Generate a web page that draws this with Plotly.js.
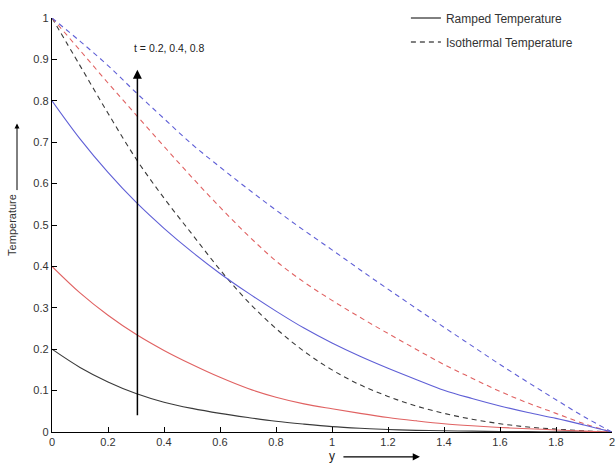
<!DOCTYPE html>
<html>
<head>
<meta charset="utf-8">
<script src="https://cdn.plot.ly/plotly-3.0.1.min.js"></script>
<style>html,body{margin:0;padding:0;background:#fff;}#chart{width:616px;height:468px;}</style>
</head>
<body>
<div id="chart"></div>
<script>
// distance y
const yPos = [0, 0.1, 0.2, 0.3, 0.4, 0.5, 0.6, 0.7, 0.8, 0.9, 1.0, 1.1, 1.2, 1.3, 1.4, 1.5, 1.6, 1.7, 1.8, 1.9, 2.0];

// Ramped temperature (solid)
const rampT02 = [0.200, 0.156, 0.121, 0.093, 0.072, 0.057, 0.045, 0.035, 0.026, 0.019, 0.013, 0.009, 0.006, 0.004, 0.003, 0.002, 0.0012, 0.0008, 0.0005, 0.0002, 0];
const rampT04 = [0.400, 0.336, 0.282, 0.236, 0.197, 0.163, 0.132, 0.105, 0.084, 0.068, 0.056, 0.045, 0.035, 0.027, 0.020, 0.015, 0.011, 0.008, 0.005, 0.002, 0];
const rampT08 = [0.800, 0.708, 0.627, 0.555, 0.492, 0.435, 0.383, 0.336, 0.292, 0.251, 0.215, 0.183, 0.154, 0.127, 0.101, 0.081, 0.063, 0.047, 0.033, 0.017, 0];

// Isothermal temperature (dashed)
const isoT02 = [1.000, 0.885, 0.770, 0.660, 0.565, 0.478, 0.392, 0.315, 0.250, 0.195, 0.150, 0.114, 0.086, 0.063, 0.045, 0.031, 0.020, 0.012, 0.007, 0.003, 0];
const isoT04 = [1.000, 0.922, 0.843, 0.766, 0.690, 0.615, 0.543, 0.475, 0.413, 0.362, 0.318, 0.277, 0.238, 0.200, 0.163, 0.130, 0.098, 0.070, 0.045, 0.020, 0];
const isoT08 = [1.000, 0.944, 0.885, 0.820, 0.757, 0.695, 0.640, 0.587, 0.536, 0.487, 0.440, 0.392, 0.345, 0.299, 0.253, 0.208, 0.163, 0.120, 0.078, 0.037, 0];

const xTicks = [0, 0.2, 0.4, 0.6, 0.8, 1, 1.2, 1.4, 1.6, 1.8, 2];
const yTicks = [0, 0.1, 0.2, 0.3, 0.4, 0.5, 0.6, 0.7, 0.8, 0.9, 1];
const legendNames = ['Ramped Temperature', 'Isothermal Temperature'];
const timeLabel = 't = 0.2, 0.4, 0.8';

const cBlack = '#3a3a3a', cRed = '#e06262', cBlue = '#5f5fd6';
const DASH = '5px,4px';
const FONT = 'Liberation Sans, Arial, sans-serif';

function line(y, color, dash) {
  return {x: yPos, y: y, mode: 'lines', showlegend: false, hoverinfo: 'skip',
          line: {color: color, width: 1.1, dash: dash, shape: 'spline', smoothing: 1}};
}

const traces = [
  line(isoT02, cBlack, DASH), line(isoT04, cRed, DASH), line(isoT08, cBlue, DASH),
  line(rampT02, cBlack, 'solid'), line(rampT04, cRed, 'solid'), line(rampT08, cBlue, 'solid'),
  {x: [null], y: [null], mode: 'lines', name: legendNames[0], legendgroup: 'a',
   line: {color: '#000', width: 1, dash: 'solid'}},
  {x: [null], y: [null], mode: 'lines', name: legendNames[1], legendgroup: 'b',
   line: {color: '#000', width: 1, dash: DASH}}
];

const axisFont = {family: FONT, size: 11, color: '#333'};

const layout = {
  width: 616, height: 468,
  margin: {l: 52, r: 4, t: 15, b: 36},
  paper_bgcolor: '#fff', plot_bgcolor: '#fff',
  font: axisFont,
  showlegend: true,
  legend: {x: 0.632, y: 1.035, xanchor: 'left', yanchor: 'top', bgcolor: 'rgba(0,0,0,0)',
           font: {family: FONT, size: 12, color: '#333'},
           traceorder: 'grouped', tracegroupgap: 5, itemwidth: 30},
  xaxis: {range: [0, 2], tickvals: xTicks, ticktext: xTicks.map(String), ticks: 'inside', ticklen: 5,
          tickcolor: '#000', showline: true, linecolor: '#000', linewidth: 1.2, showgrid: false,
          zeroline: false, mirror: false, tickfont: axisFont,
          title: {text: 'y', font: {family: FONT, size: 12, color: '#222'}, standoff: 4}},
  yaxis: {range: [0, 1], tickvals: yTicks, ticktext: yTicks.map(String), ticks: 'inside', ticklen: 5,
          tickcolor: '#000', showline: true, linecolor: '#000', linewidth: 1.2, showgrid: false,
          zeroline: false, mirror: false, tickfont: axisFont,
          title: {text: 'Temperature', font: {family: FONT, size: 11, color: '#333'}, standoff: 14}},
  annotations: [
    {x: 0.305, y: 0.875, ax: 0.305, ay: 0.037, xref: 'x', yref: 'y', axref: 'x', ayref: 'y',
     showarrow: true, arrowhead: 2, arrowsize: 1.2, arrowwidth: 1.5, arrowcolor: '#000', text: ''},
    {x: 0.285, y: 0.928, xref: 'x', yref: 'y', xanchor: 'left', yanchor: 'middle', showarrow: false,
     text: timeLabel, font: {family: FONT, size: 10.5, color: '#222'}},
    {x: -0.0625, y: 0.745, xref: 'paper', yref: 'paper', ax: 0, ay: 68, showarrow: true,
     arrowhead: 2, arrowsize: 1, arrowwidth: 1, arrowcolor: '#000', text: ''},
    {x: 0.657, y: -0.06, xref: 'paper', yref: 'paper', ax: -78, ay: 0, showarrow: true,
     arrowhead: 2, arrowsize: 1.1, arrowwidth: 1.3, arrowcolor: '#000', text: ''}
  ]
};

Plotly.newPlot('chart', traces, layout, {staticPlot: true, displayModeBar: false});
</script>
</body>
</html>
